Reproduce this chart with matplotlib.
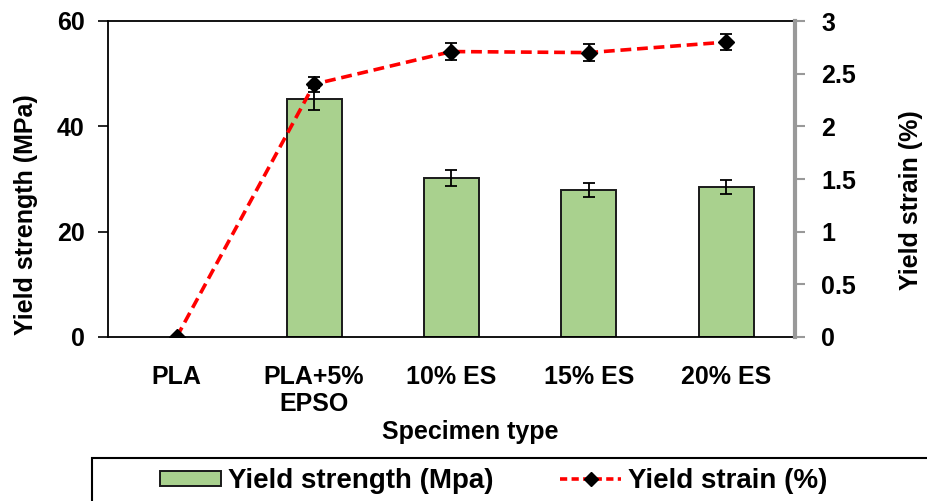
import matplotlib.pyplot as plt
from matplotlib.lines import Line2D
from matplotlib.patches import Rectangle
import numpy as np

plt.rcParams['font.family'] = ['Liberation Sans', 'DejaVu Sans']
plt.rcParams['font.weight'] = 'bold'

specimens = ["PLA", "PLA+5%\nEPSO", "10% ES", "15% ES", "20% ES"]
strength = [0, 45.2, 30.2, 27.9, 28.5]
strength_err = [0, 2.1, 1.6, 1.4, 1.3]
strain = [0, 2.40, 2.71, 2.70, 2.80]
strain_err = [0, 0.07, 0.08, 0.08, 0.08]

W, H = 927, 501
fig = plt.figure(figsize=(W / 100, H / 100), dpi=100)
ax = fig.add_axes([108 / W, 1 - 337 / H, 687 / W, 316 / H])
x = np.arange(len(specimens))

# bars for the filled specimens only (PLA has no bar)
ax.bar(x[1:], strength[1:], 0.4, color='#a9d18e', edgecolor='#1a1a1a', linewidth=1.4,
       yerr=strength_err[1:], capsize=4,
       error_kw=dict(elinewidth=1.3, capthick=1.3, ecolor='black'), zorder=2)
ax.set_ylim(0, 60)
ax.set_xlim(-0.5, 4.5)
ax.set_yticks([0, 20, 40, 60])
ax.set_xticks(x)
ax.set_xticklabels(specimens, fontsize=18, fontweight='bold', linespacing=1.15)
ax.tick_params(axis='y', labelsize=18, direction='out', length=7, width=1.2, pad=10)
ax.tick_params(axis='x', length=0, pad=20)
for s in ['left', 'bottom', 'top']:
    ax.spines[s].set_linewidth(1.3)
ax.spines['right'].set_visible(False)

ax2 = ax.twinx()
ax2.errorbar(x, strain, yerr=strain_err, color='red', linestyle='--', linewidth=2.6,
             dashes=(3, 1.6), marker='D', markersize=8.5, markerfacecolor='black',
             markeredgecolor='black', ecolor='black', elinewidth=1.3, capsize=4,
             capthick=1.3, zorder=3)
ax2.set_ylim(0, 3)
ax2.set_yticks([0, 0.5, 1, 1.5, 2, 2.5, 3])
ax2.set_yticklabels(['0', '0.5', '1', '1.5', '2', '2.5', '3'])
ax2.tick_params(axis='y', labelsize=18, direction='out', length=7, color='#999999',
                width=1.5, pad=12)
ax2.spines['right'].set_color('#999999')
ax2.spines['right'].set_linewidth(3)
for s in ['left', 'bottom', 'top']:
    ax2.spines[s].set_visible(False)

fig.text(26 / W, 1 - 215 / H, 'Yield strength (MPa)', rotation=90, ha='center',
         va='center', fontsize=18, fontweight='bold')
fig.text(911 / W, 1 - 200 / H, 'Yield strain (%)', rotation=90, ha='center',
         va='center', fontsize=18, fontweight='bold')
fig.text(470 / W, 1 - 432 / H, 'Specimen type', ha='center', va='center',
         fontsize=18, fontweight='bold')

# legend box runs off the right and bottom edges
fig.patches.append(Rectangle((92 / W, -0.1), 1.0, 0.1 + (H - 458) / H,
                             transform=fig.transFigure, fill=False,
                             edgecolor='black', linewidth=1.5))
handles = [Rectangle((0, 0), 1, 1, facecolor='#a9d18e', edgecolor='#1a1a1a', linewidth=1.4),
           Line2D([], [], color='red', linestyle='--', linewidth=2.6, dashes=(2, 1.2),
                  marker='D', markersize=7, markerfacecolor='black', markeredgecolor='black')]
labels = ['Yield strength (Mpa)', 'Yield strain (%)']
fig.legend(handles, labels, loc='center left', bbox_to_anchor=(135 / W, 1 - 481 / H),
           ncol=2, frameon=False, handlelength=2.2, handleheight=0.45, handletextpad=0.25,
           columnspacing=2.4, prop={'weight': 'bold', 'size': 20})

fig.savefig('out.png', dpi=100)
